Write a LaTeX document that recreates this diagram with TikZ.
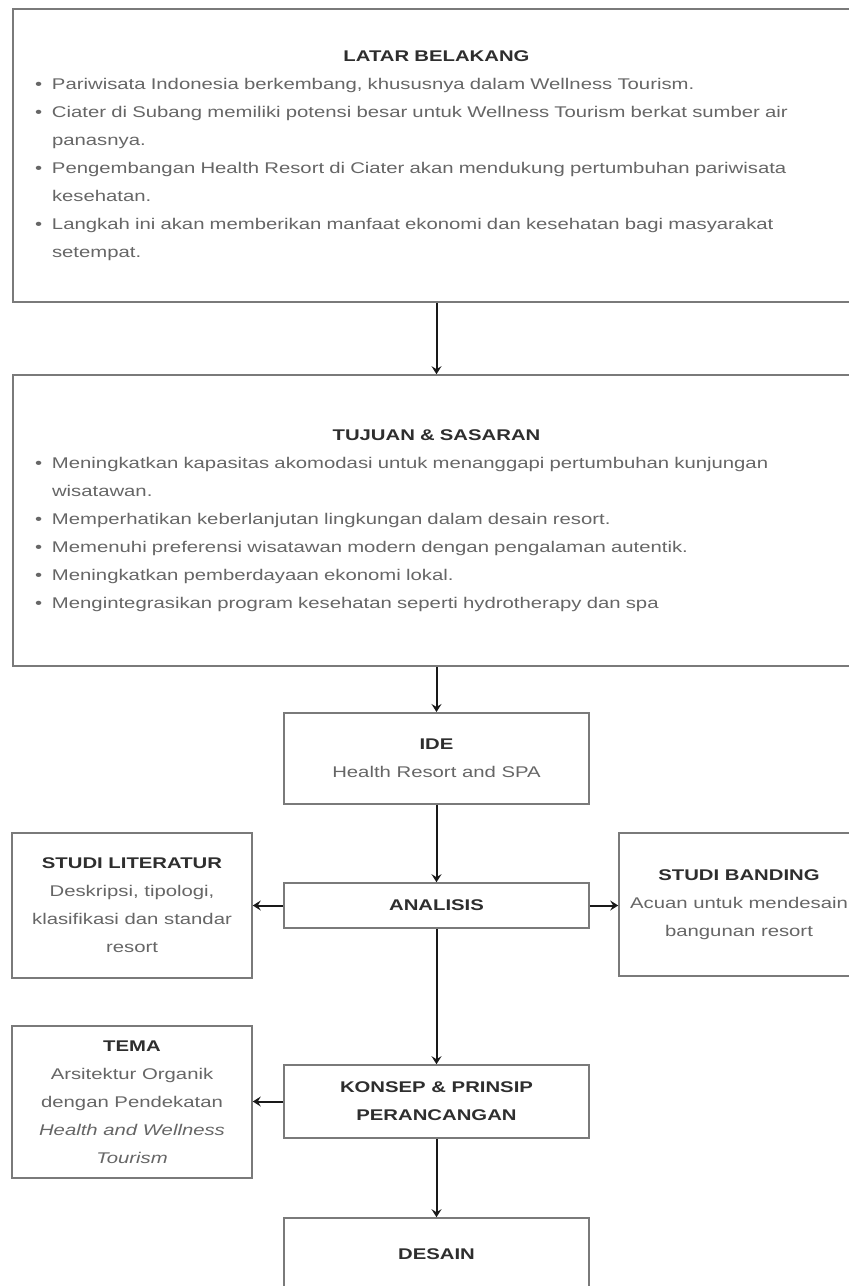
\documentclass[tikz,border=0pt]{standalone}
\usepackage{fontspec}
\setmainfont{Liberation Sans}[FakeStretch=1.31]
\usetikzlibrary{arrows.meta}
\definecolor{bordc}{HTML}{7A7A7A}
\definecolor{txtc}{HTML}{666666}
\definecolor{ttlc}{HTML}{2E2E2E}
\newcommand\bitem{\par\noindent\hangindent=17pt\hangafter=1\makebox[17pt][l]{\textbullet}}
\newcommand\ttl[1]{{\color{ttlc}\bfseries #1}}
\begin{document}
\begin{tikzpicture}[x=1pt,y=-1pt,
  box/.style={draw=bordc, line width=1.6pt, rectangle, inner sep=0pt, text=txtc,
    font=\fontsize{15.5}{28}\selectfont, align=center},
  bigbox/.style={box, minimum width=847.6pt, text width=803pt, align=left},
  arr/.style={line width=2pt, draw=black!90, -{Stealth[length=8pt,width=10pt,inset=3pt]}}]
\clip (0,0) rectangle (849,1286);
\fill[white] (0,0) rectangle (849,1286);

\node[bigbox, minimum height=293pt] (latar) at (436.5,155.5) {%
{\centering\ttl{LATAR BELAKANG}\par}%
\bitem Pariwisata Indonesia berkembang, khususnya dalam Wellness Tourism.%
\bitem Ciater di Subang memiliki potensi besar untuk Wellness Tourism berkat sumber air\newline panasnya.%
\bitem Pengembangan Health Resort di Ciater akan mendukung pertumbuhan pariwisata\newline kesehatan.%
\bitem Langkah ini akan memberikan manfaat ekonomi dan kesehatan bagi masyarakat\newline setempat.\par};

\node[bigbox, minimum height=291pt] (tujuan) at (436.5,520.5) {%
{\centering\ttl{TUJUAN \& SASARAN}\par}%
\bitem Meningkatkan kapasitas akomodasi untuk menanggapi pertumbuhan kunjungan\newline wisatawan.%
\bitem Memperhatikan keberlanjutan lingkungan dalam desain resort.%
\bitem Memenuhi preferensi wisatawan modern dengan pengalaman autentik.%
\bitem Meningkatkan pemberdayaan ekonomi lokal.%
\bitem Mengintegrasikan program kesehatan seperti hydrotherapy dan spa\par};

\node[box, minimum width=305pt, minimum height=91pt] (ide) at (436.5,758.3)
  {\ttl{IDE}\\Health Resort and SPA};
\node[box, minimum width=305pt, minimum height=45pt] (analisis) at (436.5,905.5)
  {\ttl{ANALISIS}};
\node[box, minimum width=305pt, minimum height=73pt] (konsep) at (436.5,1101.5)
  {\ttl{KONSEP \& PRINSIP}\\\ttl{PERANCANGAN}};
\node[box, minimum width=305pt, minimum height=72pt] (desain) at (436.5,1254)
  {\ttl{DESAIN}};

\node[box, minimum width=240pt, minimum height=145pt] (studilit) at (132,905.5)
  {\ttl{STUDI LITERATUR}\\Deskripsi, tipologi,\\klasifikasi dan standar\\resort};
\node[box, minimum width=240pt, minimum height=143pt] (banding) at (739,904.5)
  {\ttl{STUDI BANDING}\\Acuan untuk mendesain\\bangunan resort};
\node[box, minimum width=240pt, minimum height=152pt] (tema) at (132,1102)
  {\ttl{TEMA}\\Arsitektur Organik\\dengan Pendekatan\\\textit{Health and Wellness}\\\textit{Tourism}};

\draw[arr] (latar.south) -- (tujuan.north);
\draw[arr] (tujuan.south) -- (ide.north);
\draw[arr] (ide.south) -- (analisis.north);
\draw[arr] (analisis.west) -- (studilit.east);
\draw[arr] (analisis.east) -- (analisis.east -| banding.west);
\draw[arr] (analisis.south) -- (konsep.north);
\draw[arr] (konsep.west) -- (konsep.west -| tema.east);
\draw[arr] (konsep.south) -- (desain.north);
\end{tikzpicture}
\end{document}
